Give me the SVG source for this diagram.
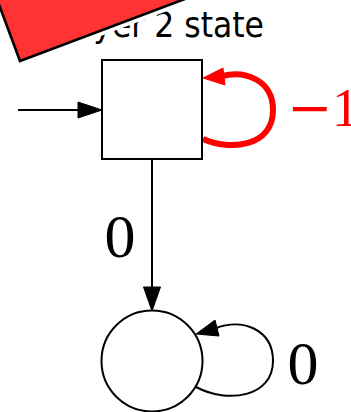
<svg xmlns="http://www.w3.org/2000/svg" width="351" height="412" viewBox="0 0 351 412">
<style>
.edge{fill:none;stroke:#000;stroke-width:2}
.head{fill:#000;stroke:#000;stroke-width:1}
.node{fill:#fff;stroke:#000;stroke-width:2}
.lbl{font-family:"Liberation Serif","Times New Roman",serif;font-size:62px}
.title{font-family:"DejaVu Sans Condensed","DejaVu Sans",sans-serif;font-stretch:condensed;font-size:35px;fill:#000}
</style>
<rect width="351" height="412" fill="#fff"/>
<text class="title" x="264" y="37" text-anchor="end">Layer 2 state</text>
<g id="banner">
<polygon points="20,61 254,-27 219,-121 -15,-33" fill="none" stroke="#fff" stroke-width="10"/>
<polygon points="20,61 254,-27 219,-121 -15,-33" fill="#ff3333" stroke="#000" stroke-width="2.6" stroke-linejoin="miter"/>
</g>
<g id="connectors">
<line class="edge" x1="18" y1="110" x2="80" y2="110"/>
<polygon class="head" points="102,110 78,102 78,118"/>
<line class="edge" x1="152" y1="159" x2="152" y2="289"/>
<polygon class="head" points="152,311 143.5,287 160.5,287"/>
<path d="M203,139 C230,151 273,147 273,110 C273,80 245,70 222,76" fill="none" stroke="#ff0000" stroke-width="6"/>
<polygon points="203,78 223,68 225,85" fill="#ff0000" stroke="#ff0000" stroke-width="1"/>
<path class="edge" d="M196,387 C228,404 273,397 273,361 C273,329 242,318 216,328"/>
<polygon class="head" points="196,334 215,320 219,336"/>
</g>
<g id="state1">
<rect class="node" x="102" y="60" width="100" height="99"/>
</g>
<g id="state2">
<circle class="node" cx="152" cy="361" r="50.5"/>
</g>
<g id="labels">
<text class="lbl" x="120" y="257" text-anchor="middle">0</text>
<text class="lbl" x="303" y="384" text-anchor="middle">0</text>
<text x="287" y="126" fill="#ff0000" font-size="54" font-family="Liberation Serif, serif"><tspan font-family="DejaVu Serif, serif">−</tspan><tspan x="332">1</tspan></text>
</g>
</svg>
